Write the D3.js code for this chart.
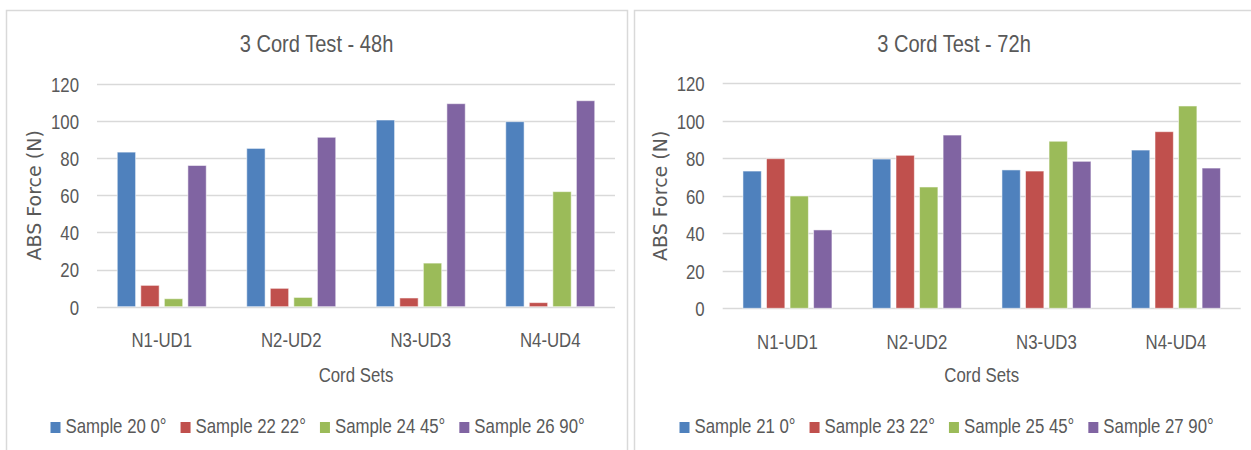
<!DOCTYPE html>
<html>
<head>
<meta charset="utf-8">
<script src="https://cdn.jsdelivr.net/npm/d3@7"></script>
<style>
  body { margin: 0; background: #fff; }
  svg { display: block; }
</style>
</head>
<body>
<div id="chart"></div>
<script>
// data
const cordSets = ["N1-UD1", "N2-UD2", "N3-UD3", "N4-UD4"];
const yTicks = [0, 20, 40, 60, 80, 100, 120];

const series48 = ["Sample 20 0°", "Sample 22 22°", "Sample 24 45°", "Sample 26 90°"];
const sample20 = [83.3, 85.3, 100.6, 99.7];
const sample22 = [11.5, 9.9, 4.7, 2.2];
const sample24 = [4.3, 5.0, 23.5, 62.0];
const sample26 = [76.1, 91.3, 109.4, 111.0];

const series72 = ["Sample 21 0°", "Sample 23 22°", "Sample 25 45°", "Sample 27 90°"];
const sample21 = [73.2, 79.6, 73.8, 84.4];
const sample23 = [79.8, 81.6, 73.2, 94.2];
const sample25 = [59.9, 64.7, 89.1, 107.9];
const sample27 = [41.8, 92.4, 78.4, 74.8];

const colors = ["#4f81bd", "#c0504d", "#9bbb59", "#8064a2"];
const textColor = "#595959";
const font = "'Liberation Sans', Arial, sans-serif";
const squeeze = 0.82; // the reference text is condensed

const W = 1251, H = 450;

const svg = d3.select("#chart")
  .append("svg")
  .attr("width", W)
  .attr("height", H);

// condensed text placed at (x, y)
function label(parent, x, y, str, size, anchor) {
  return parent.append("g")
    .attr("transform", `translate(${x},${y}) scale(${squeeze},1)`)
    .append("text")
      .attr("text-anchor", anchor || "start")
      .attr("font-family", font)
      .attr("font-size", size)
      .attr("fill", textColor)
      .text(str);
}

function drawChart(opts) {
  const { panelX, panelW, plotLeft, plotTop, plotBottom, title, names, values } = opts;
  const plotW = 518;

  // panel frame
  svg.append("rect")
    .attr("x", panelX + 0.5)
    .attr("y", 10.5)
    .attr("width", panelW)
    .attr("height", H + 10)
    .attr("fill", "#fff")
    .attr("stroke", "#d9d9d9")
    .attr("stroke-width", 1.5);

  const g = svg.append("g");

  // title
  label(g, panelX + panelW / 2, 52, title, "24.5px", "middle");

  const x = d3.scaleBand()
    .domain(cordSets)
    .range([plotLeft, plotLeft + plotW]);

  const x1 = d3.scaleBand()
    .domain(d3.range(names.length))
    .range([0, x.bandwidth()])
    .paddingInner(0.22)
    .paddingOuter(0.86);

  const y = d3.scaleLinear()
    .domain([0, 120])
    .range([plotBottom, plotTop]);

  // gridlines
  g.append("g")
    .selectAll("line")
    .data(yTicks)
    .join("line")
      .attr("x1", plotLeft)
      .attr("x2", plotLeft + plotW)
      .attr("y1", d => Math.round(y(d)) + 0.5)
      .attr("y2", d => Math.round(y(d)) + 0.5)
      .attr("stroke", "#d9d9d9")
      .attr("stroke-width", 1.3);

  // y axis labels
  const yAxis = g.append("g")
    .attr("transform", `translate(${plotLeft - 18},0)`)
    .call(d3.axisLeft(y).tickValues(yTicks).tickSize(0).tickPadding(0));
  yAxis.select(".domain").remove();
  yAxis.selectAll("text")
    .attr("font-family", font)
    .attr("font-size", "20.5px")
    .attr("fill", textColor)
    .attr("dy", "0.36em")
    .attr("transform", `scale(${squeeze},1)`);

  // x axis labels
  const xAxis = g.append("g")
    .attr("transform", `translate(0,${plotBottom})`)
    .call(d3.axisBottom(x).tickSize(0).tickPadding(26));
  xAxis.select(".domain").remove();
  xAxis.selectAll("text")
    .attr("font-family", font)
    .attr("font-size", "20.5px")
    .attr("fill", textColor)
    .attr("dy", "0.71em")
    .attr("transform", `scale(${squeeze},1)`);

  // bars
  g.append("g")
    .selectAll("g")
    .data(cordSets)
    .join("g")
      .attr("transform", d => `translate(${x(d)},0)`)
    .selectAll("rect")
    .data((d, i) => values.map((s, k) => ({ k: k, v: s[i] })))
    .join("rect")
      .attr("x", d => x1(d.k))
      .attr("y", d => y(d.v))
      .attr("width", x1.bandwidth())
      .attr("height", d => y(0) - y(d.v))
      .attr("fill", d => colors[d.k])
      .attr("stroke", "#fff")
      .attr("stroke-opacity", 0.55)
      .attr("stroke-width", 1);

  // axis titles
  label(g, plotLeft + plotW / 2, 382, "Cord Sets", "20.5px", "middle");

  g.append("text")
    .attr("transform", `translate(${plotLeft - 56},${(plotTop + plotBottom) / 2}) rotate(-90)`)
    .attr("text-anchor", "middle")
    .attr("font-family", "'DejaVu Sans', sans-serif")
    .attr("font-size", "19px")
    .attr("fill", textColor)
    .text("ABS Force (N)");

  // legend
  const legend = g.append("g");
  let lx = opts.legendX;
  names.forEach((name, k) => {
    legend.append("rect")
      .attr("x", lx)
      .attr("y", 422)
      .attr("width", 10)
      .attr("height", 11)
      .attr("fill", colors[k]);
    const t = label(legend, lx + 15, 433, name, "20.5px");
    lx += 15 + t.node().getComputedTextLength() * squeeze + 14;
  });
}

drawChart({
  panelX: 6, panelW: 621, plotLeft: 97, plotTop: 84, plotBottom: 306.7,
  title: "3 Cord Test - 48h", names: series48,
  values: [sample20, sample22, sample24, sample26], legendX: 50.5
});

drawChart({
  panelX: 634, panelW: 640, plotLeft: 722.7, plotTop: 83.3, plotBottom: 308.3,
  title: "3 Cord Test - 72h", names: series72,
  values: [sample21, sample23, sample25, sample27], legendX: 679.5
});
</script>
</body>
</html>
